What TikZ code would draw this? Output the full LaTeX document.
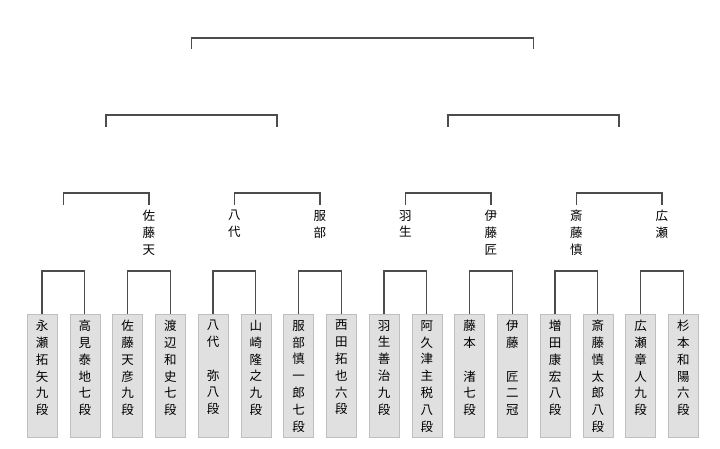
\documentclass[tikz,border=0pt]{standalone}
\usepackage{fontspec}
\usetikzlibrary{calc}
\newfontfamily\cjk{Noto Sans CJK JP}
\tikzset{
  player/.style={draw=black!25, fill=black!12, minimum width=30pt, minimum height=123pt, anchor=north},
  vname/.style={anchor=north, align=center, inner sep=0pt, font=\cjk\fontsize{12.5}{16.8}\selectfont},
  bracket/.style={draw=black!70, line width=1.3pt}
}
\begin{document}
\begin{tikzpicture}[x=1pt,y=-1pt]
    \useasboundingbox (0,0) rectangle (720,449);

    % Players
    \foreach \i/\nm in {1/永\\瀬\\拓\\矢\\九\\段, 2/高\\見\\泰\\地\\七\\段, 3/佐\\藤\\天\\彦\\九\\段, 4/渡\\辺\\和\\史\\七\\段,
                        5/八\\代\\　\\弥\\八\\段, 6/山\\崎\\隆\\之\\九\\段, 7/服\\部\\慎\\一\\郎\\七\\段, 8/西\\田\\拓\\也\\六\\段,
                        9/羽\\生\\善\\治\\九\\段, 10/阿\\久\\津\\主\\税\\八\\段, 11/藤\\本\\　\\渚\\七\\段, 12/伊\\藤\\　\\匠\\二\\冠,
                        13/増\\田\\康\\宏\\八\\段, 14/斎\\藤\\慎\\太\\郎\\八\\段, 15/広\\瀬\\章\\人\\九\\段, 16/杉\\本\\和\\陽\\六\\段} {
        \pgfmathsetmacro{\px}{42+42.75*(\i-1)}
        \node[player] (p\i) at (\px,314) {};
        \node[vname] (n\i) at (\px,320) {\nm};
        \coordinate (a\i) at (\px,271);
    }

    % First round
    \foreach \a/\b/\k in {1/2/1, 3/4/2, 5/6/3, 7/8/4, 9/10/5, 11/12/6, 13/14/7, 15/16/8} {
        \draw[bracket] (p\a.north) -- (a\a) -- (a\b) -- (p\b.north);
        \coordinate (b\k) at ($(a\a)!0.5!(a\b) + (0,-78)$);
        \coordinate (e\k) at ($(b\k) + (0,12)$);
    }

    % Second round winners
    \foreach \k/\nm in {2/佐\\藤\\天, 3/八\\代, 4/服\\部, 5/羽\\生, 6/伊\\藤\\匠, 7/斎\\藤\\慎, 8/広\\瀬} {
        \node[vname] (w\k) at ($(b\k) + (0,17)$) {\nm};
    }

    % Second round
    \foreach \a/\b/\k in {1/2/1, 3/4/2, 5/6/3, 7/8/4} {
        \draw[bracket] (e\a) -- (b\a) -- (b\b) -- (e\b);
        \coordinate (c\k) at ($(b\a)!0.5!(b\b) + (0,-78)$);
        \coordinate (f\k) at ($(c\k) + (0,12)$);
    }

    % Semifinals
    \foreach \a/\b/\k in {1/2/1, 3/4/2} {
        \draw[bracket] (f\a) -- (c\a) -- (c\b) -- (f\b);
        \coordinate (d\k) at ($(c\a)!0.5!(c\b) + (0,-77)$);
        \coordinate (g\k) at ($(d\k) + (0,11)$);
    }

    % Final
    \draw[bracket] (g1) -- (d1) -- (d2) -- (g2);
\end{tikzpicture}
\end{document}
